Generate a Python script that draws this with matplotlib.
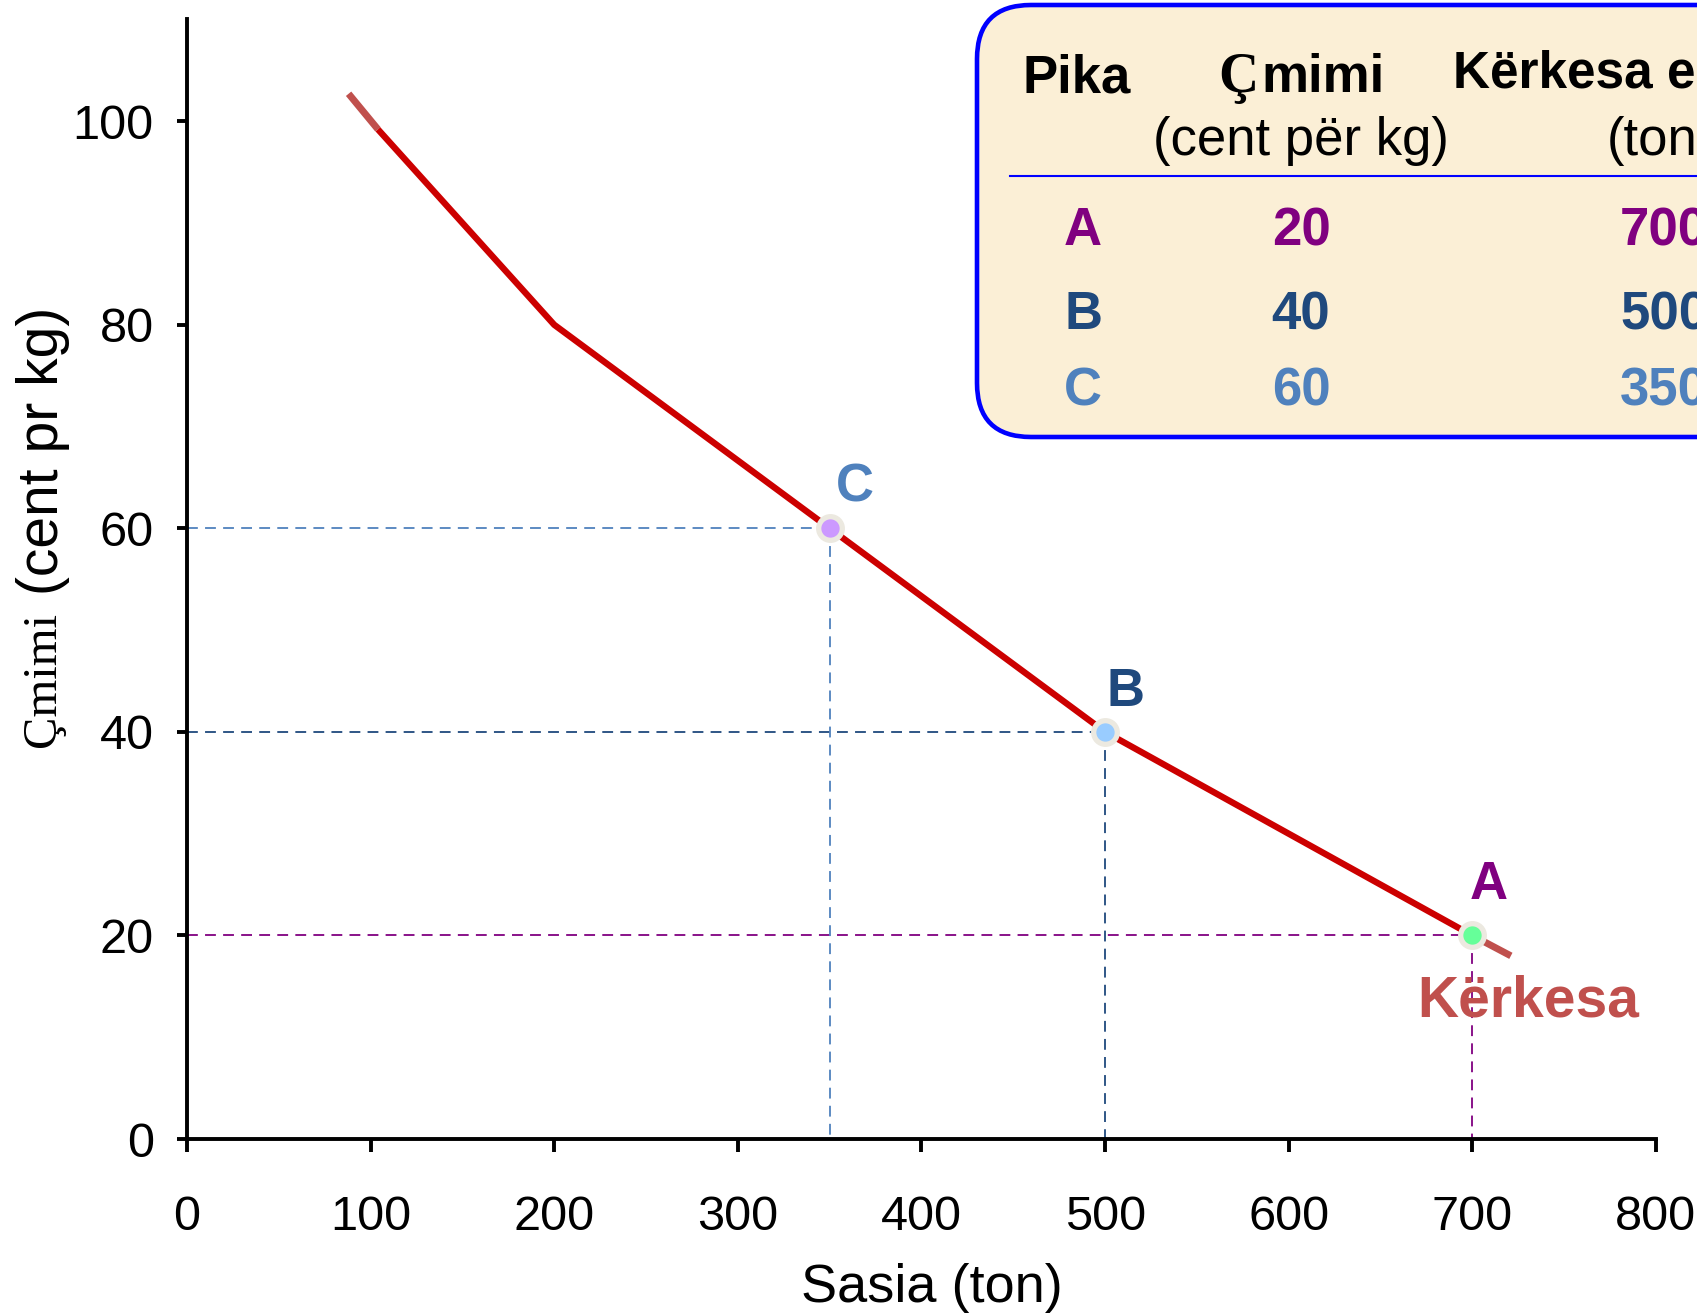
import matplotlib.pyplot as plt
from matplotlib.patches import FancyBboxPatch

# pikat e tabeles
pikat = ['A', 'B', 'C']
cmimet = [20, 40, 60]        # cent per kg
sasite = [700, 500, 350]     # ton
ngjyrat = ['#800080', '#1F497D', '#4F81BD']
mbushje = ['#66FF99', '#99CCFF', '#CC99FF']

# kurba e kerkeses
kerkesa_q = [104, 200, 350, 500, 700]
kerkesa_p = [99.2, 80, 60, 40, 20]
zgjatim_lart_q = [88, 104]
zgjatim_lart_p = [102.7, 99.2]
zgjatim_posht_q = [700, 721]
zgjatim_posht_p = [20, 18]

x_ticks = [0, 100, 200, 300, 400, 500, 600, 700, 800]
y_ticks = [0, 20, 40, 60, 80, 100]

narrow = ['Liberation Sans Narrow', 'Liberation Sans', 'DejaVu Sans']
sans = ['Liberation Sans', 'DejaVu Sans']
serif = ['Liberation Serif', 'DejaVu Serif']

fig = plt.figure(figsize=(16.97, 13.15), dpi=100)
ax = fig.add_axes([0.1102, 0.1338, 0.8656, 0.8514])
ax.set_xlim(0, 800)
ax.set_ylim(0, 110)
for s in ['top', 'right']:
    ax.spines[s].set_visible(False)
for s in ['left', 'bottom']:
    ax.spines[s].set_linewidth(2.8)
ax.set_xticks(x_ticks)
ax.set_yticks(y_ticks)
ax.tick_params(axis='x', direction='out', length=9, width=2.8, pad=31)
ax.tick_params(axis='y', direction='out', length=7, width=2.8, pad=17)
for lab in ax.get_xticklabels() + ax.get_yticklabels():
    lab.set_fontfamily(narrow)
    lab.set_fontsize(35)

# vijat me nderprerje
for q, p, c in zip(sasite, cmimet, ngjyrat):
    ax.plot([0, q], [p, p], color=c, lw=1.3, dashes=(6, 4), zorder=2)
    ax.plot([q, q], [p, 0], color=c, lw=1.3, dashes=(6, 4), zorder=2)

ax.plot(zgjatim_lart_q, zgjatim_lart_p, color='#C0504D', lw=5, solid_capstyle='butt', zorder=3)
ax.plot(zgjatim_posht_q, zgjatim_posht_p, color='#C0504D', lw=5, solid_capstyle='butt', zorder=3)
ax.plot(kerkesa_q, kerkesa_p, color='#CC0000', lw=4.6, solid_capstyle='butt', zorder=4)

zhvendosje = [(11.5, 26), (15, 19), (18, 19)]
for q, p, c, f, emri, d in zip(sasite, cmimet, ngjyrat, mbushje, pikat, zhvendosje):
    ax.plot(q, p, 'o', ms=17, mfc=f, mec='#ECE9E0', mew=3.8, zorder=5)
    ax.annotate(emri, (q, p), xytext=d, textcoords='offset points',
                ha='center', va='baseline', fontsize=38, fontweight='bold',
                color=c, family=sans)

ax.text(670, 12, 'Kërkesa', color='#C0504D', fontsize=41, fontweight='bold',
        family=sans, ha='left', va='baseline', zorder=6)

# titujt e boshteve
fig.text(932 / 1697, (1315 - 1302) / 1315, 'Sasia (ton)', fontsize=39, family=sans,
         ha='center', va='baseline')
fig.text(43 / 1697, (1315 - 747) / 1315, 'Çmimi', fontsize=35, family=serif,
         rotation=90, ha='center', va='bottom')
fig.text(43 / 1697, (1315 - 595) / 1315, '(cent pr kg)', fontsize=41, family=sans,
         rotation=90, ha='center', va='bottom')

# tabela
ov = fig.add_axes([0, 0, 1, 1])
ov.set_xlim(0, 1697)
ov.set_ylim(1315, 0)
ov.axis('off')
box = FancyBboxPatch((977, 5), 900, 432, boxstyle='round,pad=0,rounding_size=54',
                     fc='#FBEFD6', ec='#0000FF', lw=3.3)
ov.add_patch(box)
ov.plot([1010, 1697], [176, 176], color='#0000FF', lw=1.5)

ov.text(1023, 92, 'Pika', fontsize=38, fontweight='bold', family=sans, va='baseline')
ov.text(1218, 92, 'Ç', fontsize=40, fontweight='bold', family=serif, va='baseline')
ov.text(1261, 92, 'mimi', fontsize=38, fontweight='bold', family=sans, va='baseline')
ov.text(1453, 87, 'Kërkesa e', fontsize=37, fontweight='bold', family=sans, va='baseline')
ov.text(1153, 155, '(cent për kg)', fontsize=38, family=sans, va='baseline')
ov.text(1607, 155, '(ton)', fontsize=38, family=sans, va='baseline')

rreshtat_y = [245, 329, 405]
for emri, p, q, c, yy in zip(pikat, cmimet, sasite, ngjyrat, rreshtat_y):
    ov.text(1083, yy, emri, fontsize=38, fontweight='bold', color=c, family=sans,
            ha='center', va='baseline')
    ov.text(1301, yy, str(p), fontsize=38, fontweight='bold', color=c, family=sans,
            ha='center', va='baseline')
    ov.text(1620, yy, str(q), fontsize=38, fontweight='bold', color=c, family=sans,
            ha='left', va='baseline')

fig.savefig('out.png', dpi=100)
